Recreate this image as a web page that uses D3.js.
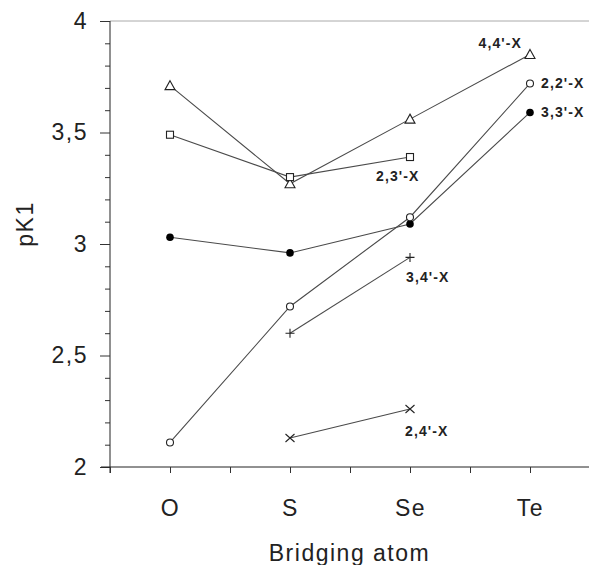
<!DOCTYPE html>
<html>
<head>
<meta charset="utf-8">
<script src="https://cdn.jsdelivr.net/npm/d3@7"></script>
<style>
  html, body { margin: 0; padding: 0; background: #fff; }
  svg { display: block; }
  text { font-family: "Liberation Sans", Arial, sans-serif; fill: #222; }
</style>
</head>
<body>
<svg id="chart" width="589" height="565"></svg>
<script>
// ---- data ----
const categories = ["O", "S", "Se", "Te"];
const yMajorTicks = [2, 2.5, 3, 3.5, 4];
const series44 = [3.71, 3.27, 3.56, 3.85];   // triangles
const series23 = [3.49, 3.30, 3.39, null];   // squares
const series33 = [3.03, 2.96, 3.09, 3.59];   // filled circles
const series22 = [2.11, 2.72, 3.12, 3.72];   // open circles
const series34 = [null, 2.60, 2.94, null];   // plus
const series24 = [null, 2.13, 2.26, null];   // cross
const seriesNames = ["4,4'-X", "2,3'-X", "3,3'-X", "2,2'-X", "3,4'-X", "2,4'-X"];
const seriesValues = [series44, series23, series33, series22, series34, series24];
const labelAnchorCat = ["Te", "Se", "Te", "Te", "Se", "Se"];

// ---- styling ----
const markerTypes = ["triangle", "square", "dot", "circle", "plus", "cross"];
const labelOffsets = [[-8, -6, "end"], [-34, 24, "start"], [11, 5, "start"], [11, 5, "start"], [-4, 25, "start"], [-5, 27, "start"]];

const svg = d3.select("#chart");
const x = d3.scaleLinear().domain([0.5, 4.5]).range([110, 590]);
const y = d3.scaleLinear().domain([2, 4]).range([467, 21]);

// top frame line
svg.append("line").attr("x1", x(0.5)).attr("x2", x(4.5)).attr("y1", y(4)).attr("y2", y(4))
  .attr("stroke", "#aaa").attr("stroke-width", 1);

// y axis minor ticks
const minor = d3.range(20, 41).map(v => v / 10).filter(v => !yMajorTicks.some(m => Math.abs(m - v) < 1e-6));
svg.append("g").attr("transform", `translate(${x(0.5)},0)`)
  .call(d3.axisLeft(y).tickValues(minor).tickSize(5).tickFormat(""))
  .call(g => g.select(".domain").remove())
  .call(g => g.selectAll("line").attr("stroke", "#333"));

// y axis major
const fmt = v => d3.format("")(v).replace(".", ",");
svg.append("g").attr("transform", `translate(${x(0.5)},0)`)
  .call(d3.axisLeft(y).tickValues(yMajorTicks).tickSize(10).tickPadding(12).tickFormat(fmt))
  .call(g => g.select(".domain").attr("stroke", "#222").attr("d", `M0,${y(4)}V${y(2) + 6}`))
  .call(g => g.selectAll("line").attr("stroke", "#333"))
  .call(g => g.selectAll("text").attr("font-size", 23).attr("letter-spacing", 1.5).attr("fill", "#222"));

// x axis
const xTickVals = d3.range(1, 10).map(i => i * 0.5);
svg.append("g").attr("transform", `translate(0,${y(2)})`)
  .call(d3.axisBottom(x).tickValues(xTickVals).tickSize(6).tickPadding(27)
    .tickFormat(v => Number.isInteger(v) ? categories[v - 1] : ""))
  .call(g => g.select(".domain").attr("stroke", "#222").attr("d", `M${x(0.5) - 9},0H589`))
  .call(g => g.selectAll("line").attr("stroke", "#333"))
  .call(g => g.selectAll("text").attr("font-size", 23).attr("letter-spacing", 1.5).attr("fill", "#222"));

// axis titles
svg.append("text").attr("x", (x(0.5) + 589) / 2).attr("y", 561).attr("text-anchor", "middle")
  .attr("font-size", 23).attr("letter-spacing", 1.5).text("Bridging atom");
svg.append("text").attr("transform", `translate(33,${y(3) - 20}) rotate(-90)`).attr("text-anchor", "middle")
  .attr("font-size", 23).attr("letter-spacing", 1.5).text("pK1");

// lines
const line = d3.line().defined(d => d.v != null).x(d => x(d.i + 1)).y(d => y(d.v));
seriesValues.forEach((vals, k) => {
  const pts = vals.map((v, i) => ({ v, i }));
  svg.append("path").datum(pts).attr("d", line).attr("fill", "none")
    .attr("stroke", "#4a4a4a").attr("stroke-width", 1.1);
});

// markers
function drawMarker(g, type, cx, cy) {
  const s = "#222";
  if (type === "triangle") {
    g.append("path").attr("d", `M${cx},${cy - 5}L${cx + 5},${cy + 4}L${cx - 5},${cy + 4}Z`)
      .attr("fill", "#fff").attr("stroke", s).attr("stroke-width", 1.1);
  } else if (type === "square") {
    g.append("rect").attr("x", cx - 3.5).attr("y", cy - 3.5).attr("width", 7).attr("height", 7)
      .attr("fill", "#fff").attr("stroke", s).attr("stroke-width", 1.1);
  } else if (type === "dot") {
    g.append("circle").attr("cx", cx).attr("cy", cy).attr("r", 3.8).attr("fill", "#000");
  } else if (type === "circle") {
    g.append("circle").attr("cx", cx).attr("cy", cy).attr("r", 3.5)
      .attr("fill", "#fff").attr("stroke", s).attr("stroke-width", 1.1);
  } else if (type === "plus") {
    g.append("path").attr("d", `M${cx - 4.5},${cy}H${cx + 4.5}M${cx},${cy - 4.5}V${cy + 4.5}`)
      .attr("stroke", s).attr("stroke-width", 1.1);
  } else if (type === "cross") {
    g.append("path").attr("d", `M${cx - 4.5},${cy - 4}L${cx + 4.5},${cy + 4}M${cx - 4.5},${cy + 4}L${cx + 4.5},${cy - 4}`)
      .attr("stroke", s).attr("stroke-width", 1.1);
  }
}
const mg = svg.append("g");
seriesValues.forEach((vals, k) => {
  vals.forEach((v, i) => { if (v != null) drawMarker(mg, markerTypes[k], x(i + 1), y(v)); });
});

// series labels
seriesNames.forEach((name, k) => {
  const ci = categories.indexOf(labelAnchorCat[k]);
  const v = seriesValues[k][ci];
  const [dx, dy, anchor] = labelOffsets[k];
  svg.append("text").attr("x", x(ci + 1) + dx).attr("y", y(v) + dy).attr("text-anchor", anchor)
    .attr("font-size", 14).attr("letter-spacing", 1.1).attr("font-weight", "bold").attr("fill", "#222").text(name);
});
</script>
</body>
</html>
